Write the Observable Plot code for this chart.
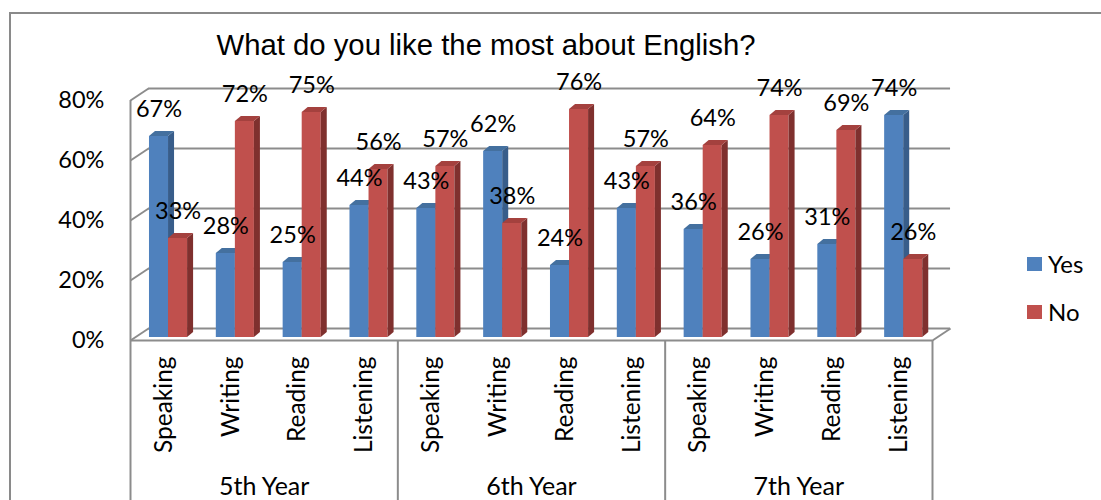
<!DOCTYPE html>
<html>
<head>
<meta charset="utf-8">
<script src="https://cdn.jsdelivr.net/npm/d3@7"></script>
<script src="https://cdn.jsdelivr.net/npm/@observablehq/plot@0.6"></script>
<style>
  html, body { margin: 0; padding: 0; background: #fff; }
  #wrap { position: relative; width: 1101px; height: 500px; overflow: hidden; }
  #border { position: absolute; left: 9px; top: 12px; width: 1200px; height: 600px;
            border-top: 2px solid #8a8a8a; border-left: 2px solid #8a8a8a; box-sizing: border-box; }
  #title { position: absolute; left: 486px; top: 30px; transform: translateX(-50%);
           font-family: "Liberation Sans", Arial, sans-serif; font-size: 29.3px; line-height: 29.3px;
           white-space: nowrap; color: #000; }
  #chart { position: absolute; left: 0; top: 0; }
  .leg { position: absolute; left: 1027px; width: 15px; height: 14px; }
  .legtxt { position: absolute; left: 1048px; font-family: Lato, sans-serif; font-size: 24px;
            line-height: 24px; color: #000; }
</style>
</head>
<body>
<div id="wrap">
  <div id="border"></div>
  <div id="chart"></div>
  <div id="title">What do you like the most about English?</div>
  <div id="legend"></div>
</div>
<script>
// ---- data ----
const years = ["5th Year", "6th Year", "7th Year"];
const skills = ["Speaking", "Writing", "Reading", "Listening"];
const seriesNames = ["Yes", "No"];
const yesValues = [67, 28, 25, 44, 43, 62, 24, 43, 36, 26, 31, 74];
const noValues  = [33, 72, 75, 56, 57, 38, 76, 57, 64, 74, 69, 26];
const yTicks = [0, 20, 40, 60, 80];

// ---- styling / geometry ----
const colors = {
  Yes: {front: "#4f81bd", side: "#385d8a", top: "#44709f"},
  No:  {front: "#c0504d", side: "#7f302e", top: "#a4413e"}
};
const OFF = {Yes: 0.284, No: 0.569};
const BW = 0.285, SDX = 0.09, SDY = 1.67;
const WDX = 0.27, WFRONT = -1, WBACK = 3;
const YMIN = -54.333, YMAX = 100;
const GRID = "#8c8c8c";

const cats = [];
years.forEach((yr, g) => skills.forEach((sk, k) => cats.push({i: g * 4 + k, year: yr, skill: sk})));

const bars = [];
cats.forEach(c => {
  bars.push({id: "Y" + c.i, i: c.i, series: "Yes", v: yesValues[c.i]});
  bars.push({id: "N" + c.i, i: c.i, series: "No", v: noValues[c.i]});
});
bars.forEach(b => { b.x1 = b.i + OFF[b.series]; b.x2 = b.x1 + BW; });

const sides = bars.flatMap(b => [
  {id: b.id, series: b.series, x: b.x2, y1: 0, y2: b.v},
  {id: b.id, series: b.series, x: b.x2 + SDX, y1: SDY, y2: b.v + SDY}
]);
const tops = bars.flatMap(b => [
  {id: b.id, series: b.series, y: b.v, x1: b.x1, x2: b.x2},
  {id: b.id, series: b.series, y: b.v + SDY, x1: b.x1 + SDX, x2: b.x2 + SDX}
]);

function barMarks(s) {
  return [
    Plot.rectY(bars.filter(b => b.series === s), {x1: "x1", x2: "x2", y1: 0, y2: "v", fill: colors[s].front}),
    Plot.areaY(sides.filter(d => d.series === s), {x: "x", y1: "y1", y2: "y2", z: "id", fill: colors[s].side}),
    Plot.areaX(tops.filter(d => d.series === s), {y: "y", x1: "x1", x2: "x2", z: "id", fill: colors[s].top})
  ];
}

const chart = Plot.plot({
  width: 1101,
  height: 500,
  marginLeft: 130,
  marginRight: 169,
  marginTop: 37,
  marginBottom: 0,
  x: {type: "linear", domain: [0, 12], axis: null},
  y: {type: "linear", domain: [YMIN, YMAX], axis: null},
  style: {fontFamily: "Lato, sans-serif", fontSize: "23.5px", background: "transparent", overflow: "visible", color: "#000"},
  marks: [
    // back wall gridlines
    Plot.ruleY(yTicks, {y: d => d + WBACK, x1: WDX, x2: 12 + WDX, stroke: GRID, strokeWidth: 2}),
    // left wall diagonals
    Plot.link(yTicks, {x1: 0, y1: d => d + WFRONT, x2: WDX, y2: d => d + WBACK, stroke: GRID, strokeWidth: 2}),
    // left wall front edge
    Plot.ruleX([0], {y1: WFRONT, y2: d3.max(yTicks) + WFRONT, stroke: GRID, strokeWidth: 2}),
    // floor right diagonal
    Plot.link([12], {x1: d => d, y1: WFRONT, x2: d => d + WDX, y2: WBACK, stroke: GRID, strokeWidth: 2}),
    // floor front edge
    Plot.ruleY([WFRONT], {x1: 0, x2: 12, stroke: GRID, strokeWidth: 2}),
    // group dividers below floor
    Plot.ruleX([0, 4, 8, 12], {y1: WFRONT, y2: YMIN, stroke: GRID, strokeWidth: 2}),
    // bars
    ...barMarks("Yes"),
    ...barMarks("No"),
    // data labels
    Plot.text(bars, {x: b => (b.x1 + b.x2) / 2, y: b => b.v + 9, text: b => b.v + "%", fill: "#000"}),
    // y tick labels
    Plot.text(yTicks, {x: -0.39, y: d => d + WFRONT, text: d => d + "%", textAnchor: "end", fill: "#000"}),
    // category labels
    Plot.text(cats, {x: d => d.i + 0.5, y: -6.3, text: "skill", rotate: -90, textAnchor: "end", fill: "#000", fontSize: 24.5}),
    // group labels
    Plot.text(years, {x: (d, i) => i * 4 + 2, y: -49.8, text: d => d, fill: "#000", fontSize: 25})
  ]
});
document.getElementById("chart").appendChild(chart);

// legend
const legend = document.getElementById("legend");
seriesNames.forEach((s, k) => {
  const top = 257 + k * 48;
  const sw = document.createElement("div");
  sw.className = "leg";
  sw.style.top = top + "px";
  sw.style.background = colors[s].front;
  legend.appendChild(sw);
  const t = document.createElement("div");
  t.className = "legtxt";
  t.style.top = (top - 5) + "px";
  t.textContent = s;
  legend.appendChild(t);
});
</script>
</body>
</html>
